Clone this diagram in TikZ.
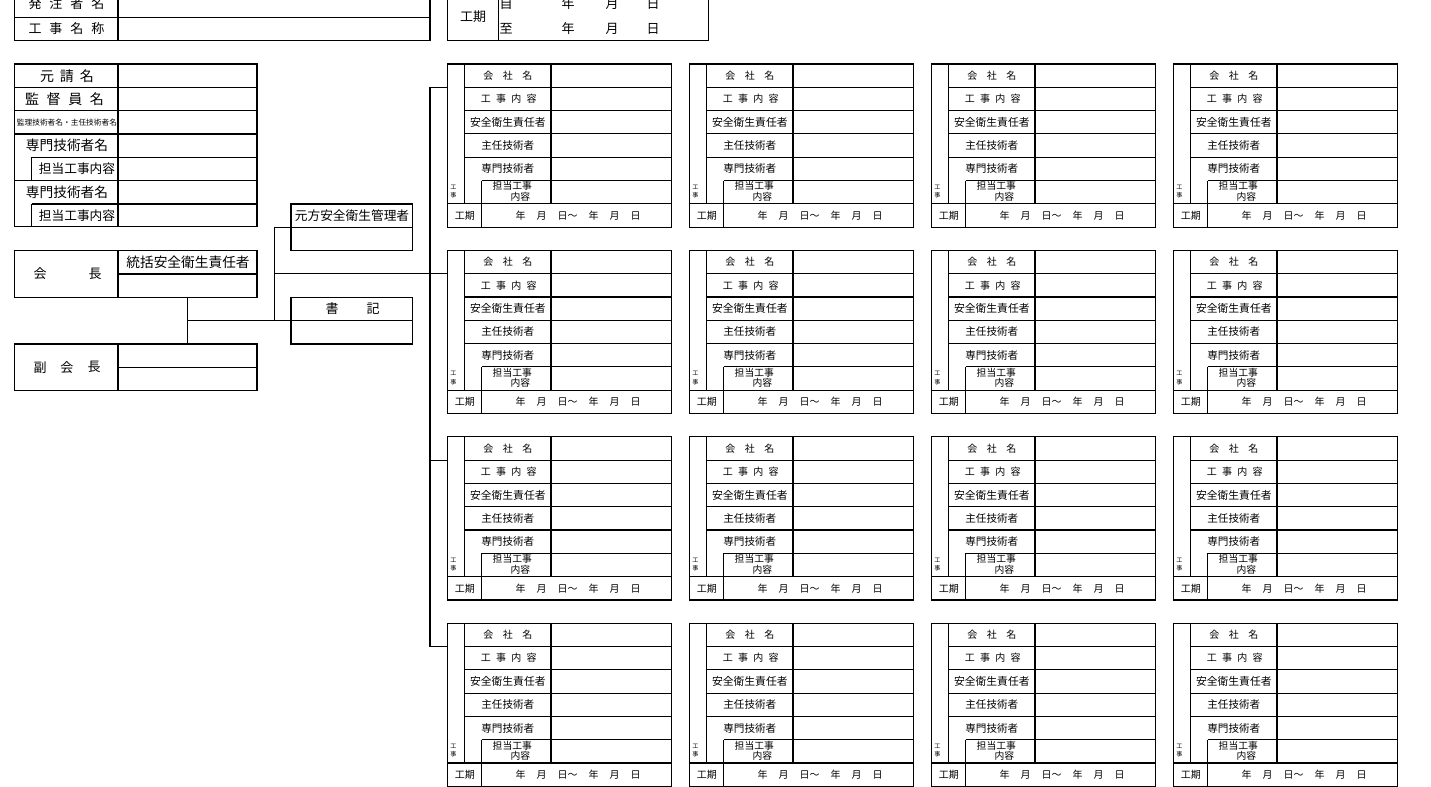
\documentclass[tikz,border=0pt]{standalone}
\usepackage{fontspec}
\setmainfont{Noto Sans CJK JP}
\newcommand\jfs[1]{\fontsize{#1}{#1}\selectfont}
\newcommand\jg[1]{\hspace{#1pt}}
\tikzset{
  frame/.style={draw=black, line width=0.6pt},
  ln/.style={draw=black, line width=0.55pt},
  txt/.style={inner sep=0pt, outer sep=0pt, anchor=center, text=black},
}
\begin{document}
\begin{tikzpicture}[x=0.5pt,y=-0.5pt]
\useasboundingbox (0,0) rectangle (1431,787);
\clip (0,0) rectangle (1431,787);
\fill[white] (0,0) rectangle (1431,787);

% ---------- top box 1 ----------
\draw[frame] (14.7,-6) rectangle (430,40.67);
\draw[ln] (14.7,17.33) -- (430,17.33);
\draw[ln] (118,-6) -- (118,40.67);
\node[txt,font=\jfs{6.5pt}] (hacchu) at (66.5,4) {発\jg{4}注\jg{4}者\jg{4}名};
\node[txt,font=\jfs{6.5pt}] (koujimei) at (66.5,29) {工\jg{4}事\jg{4}名\jg{4}称};

% ---------- top box 2 ----------
\draw[frame] (447.3,-6) rectangle (708.3,40.67);
\draw[ln] (498.3,-6) -- (498.3,40.67);
\node[txt,font=\jfs{6.5pt}] (kouki) at (473,17) {工期};
\node[txt,font=\jfs{6.5pt}] (ji) at (506,4) {自};
\node[txt,font=\jfs{6.5pt}] (itaru) at (506,29) {至};
\foreach \yy/\nm in {4/a,29/b}{
  \node[txt,font=\jfs{6.5pt}] (nen\nm) at (568,\yy) {年};
  \node[txt,font=\jfs{6.5pt}] (tsuki\nm) at (612,\yy) {月};
  \node[txt,font=\jfs{6.5pt}] (hi\nm) at (653,\yy) {日};
}

% ---------- left column box ----------
\draw[frame] (14.7,64) rectangle (257,226.67);
\draw[ln] (118,64) -- (118,226.67);
\foreach \yy in {87.33,110.67,134,180.67}{ \draw[ln] (14.7,\yy) -- (257,\yy); }
\foreach \yy in {157.33,204}{ \draw[ln] (31.7,\yy) -- (257,\yy); }
\draw[ln] (31.7,157.33) -- (31.7,180.67);
\draw[ln] (31.7,204) -- (31.7,226.67);
\node[txt,font=\jfs{7pt}] (motouke) at (67,75.7) {元\jg{3}請\jg{3}名};
\node[txt,font=\jfs{7pt}] (kantoku) at (64.5,99) {監\jg{3.8}督\jg{3.8}員\jg{3.8}名};
\node[txt,font=\jfs{3.85pt}] (kanri) at (67,122.3) {監理技術者名・主任技術者名};
\node[txt,font=\jfs{6.85pt}] (senmon1) at (67,145.7) {専門技術者名};
\node[txt,font=\jfs{6.35pt}] (tantou1) at (77,169) {担当工事内容};
\node[txt,font=\jfs{6.85pt}] (senmon2) at (67,192.3) {専門技術者名};
\node[txt,font=\jfs{6.35pt}] (tantou2) at (77,215.7) {担当工事内容};

% ---------- 元方安全衛生管理者 ----------
\draw[frame] (291,204) rectangle (412.3,250.67);
\draw[ln] (291,227.33) -- (412.3,227.33);
\node[txt,font=\jfs{6.35pt}] (motokata) at (352,215.7) {元方安全衛生管理者};

% ---------- 会長 ----------
\draw[frame] (14.7,250.67) rectangle (257,297.33);
\draw[ln] (118,250.67) -- (118,297.33);
\draw[ln] (118,274) -- (257,274);
\node[txt,font=\jfs{6.5pt}] (kai) at (40,274) {会};
\node[txt,font=\jfs{6.5pt}] (chou) at (95,274) {長};
\node[txt,font=\jfs{6.85pt}] (toukatsu) at (188,262.7) {統括安全衛生責任者};

% ---------- 書記 ----------
\draw[frame] (291,297.33) rectangle (412.3,344);
\draw[ln] (291,320.67) -- (412.3,320.67);
\node[txt,font=\jfs{6.5pt}] (sho) at (332,309) {書};
\node[txt,font=\jfs{6.5pt}] (ki) at (373,309) {記};

% ---------- 副会長 ----------
\draw[frame] (14.7,344) rectangle (257,390.67);
\draw[ln] (118,344) -- (118,390.67);
\draw[ln] (118,367.33) -- (257,367.33);
\node[txt,font=\jfs{6.5pt}] (fuku) at (40,367.3) {副};
\node[txt,font=\jfs{6.5pt}] (fkai) at (67,367.3) {会};
\node[txt,font=\jfs{6.5pt}] (fchou) at (94,367.3) {長};

% ---------- connectors ----------
\coordinate (kaichoB) at (187.3,297.33);
\coordinate (fukuT) at (187.3,344);
\coordinate (midA) at (187.3,320.67);
\coordinate (shokiL) at (291,320.67);
\coordinate (motoL) at (291,227.33);
\coordinate (vB) at (274.3,320.67);
\coordinate (hA) at (274.3,273.8);
\coordinate (r2) at (447.3,273.8);
\coordinate (r1) at (447.3,87.3);
\coordinate (r3a) at (430,460.1);
\coordinate (r3) at (447.3,460.1);
\coordinate (r4) at (447.3,646.5);
\draw[ln] (kaichoB) -- (fukuT);
\draw[ln] (midA) -- (shokiL);
\draw[ln] (motoL) -| (vB);
\draw[ln] (hA) -- (r2);
\draw[ln] (r1) -| (430,646.5) -- (r4);
\draw[ln] (r3a) -- (r3);

% ---------- sub boxes ----------
\foreach \i in {0,1,2,3}{
 \foreach \j in {0,1,2,3}{
  \begin{scope}[shift={(447.3+242*\j,64+186.4*\i)}]
   \draw[frame] (0,0) rectangle (224.5,163.1);
   \draw[ln] (17,0) -- (17,139.8);
   \draw[ln] (103.7,0) -- (103.7,139.8);
   \foreach \k in {1,2,3,4}{ \draw[ln] (17,\k*23.3) -- (224.5,\k*23.3); }
   \draw[ln] (34.5,116.5) -- (224.5,116.5);
   \draw[ln] (0,139.8) -- (224.5,139.8);
   \draw[ln] (34.5,116.5) -- (34.5,163.1);
   \node[txt,font=\jfs{5pt}] (s\i\j a) at (60.5,11.7) {会\jg{4.75}社\jg{4.75}名};
   \node[txt,font=\jfs{5pt}] (s\i\j b) at (61.4,35) {工\jg{2.65}事\jg{2.65}内\jg{2.65}容};
   \node[txt,font=\jfs{5.4pt}] (s\i\j c) at (60.5,58.2) {安全衛生責任者};
   \node[txt,font=\jfs{5.3pt}] (s\i\j d) at (60.5,81.5) {主任技術者};
   \node[txt,font=\jfs{5.3pt}] (s\i\j e) at (60.5,104.8) {専門技術者};
   \node[txt,font=\jfs{4.9pt}] (s\i\j f) at (65,122.2) {担当工事};
   \node[txt,font=\jfs{4.9pt}] (s\i\j g) at (73,132.5) {内容};
   \node[txt,font=\jfs{3pt}] (s\i\j h) at (6,123.2) {工};
   \node[txt,font=\jfs{3pt}] (s\i\j k) at (6,131.5) {事};
   \node[txt,font=\jfs{5pt}] (s\i\j m) at (17.5,151.5) {工期};
   \node[txt,font=\jfs{5pt}] (s\i\j n) at (130.7,151.5) {年\jg{5.5}月\jg{5.5}日～\jg{5.5}年\jg{5.5}月\jg{5.5}日};
  \end{scope}
 }
}
\end{tikzpicture}
\end{document}
